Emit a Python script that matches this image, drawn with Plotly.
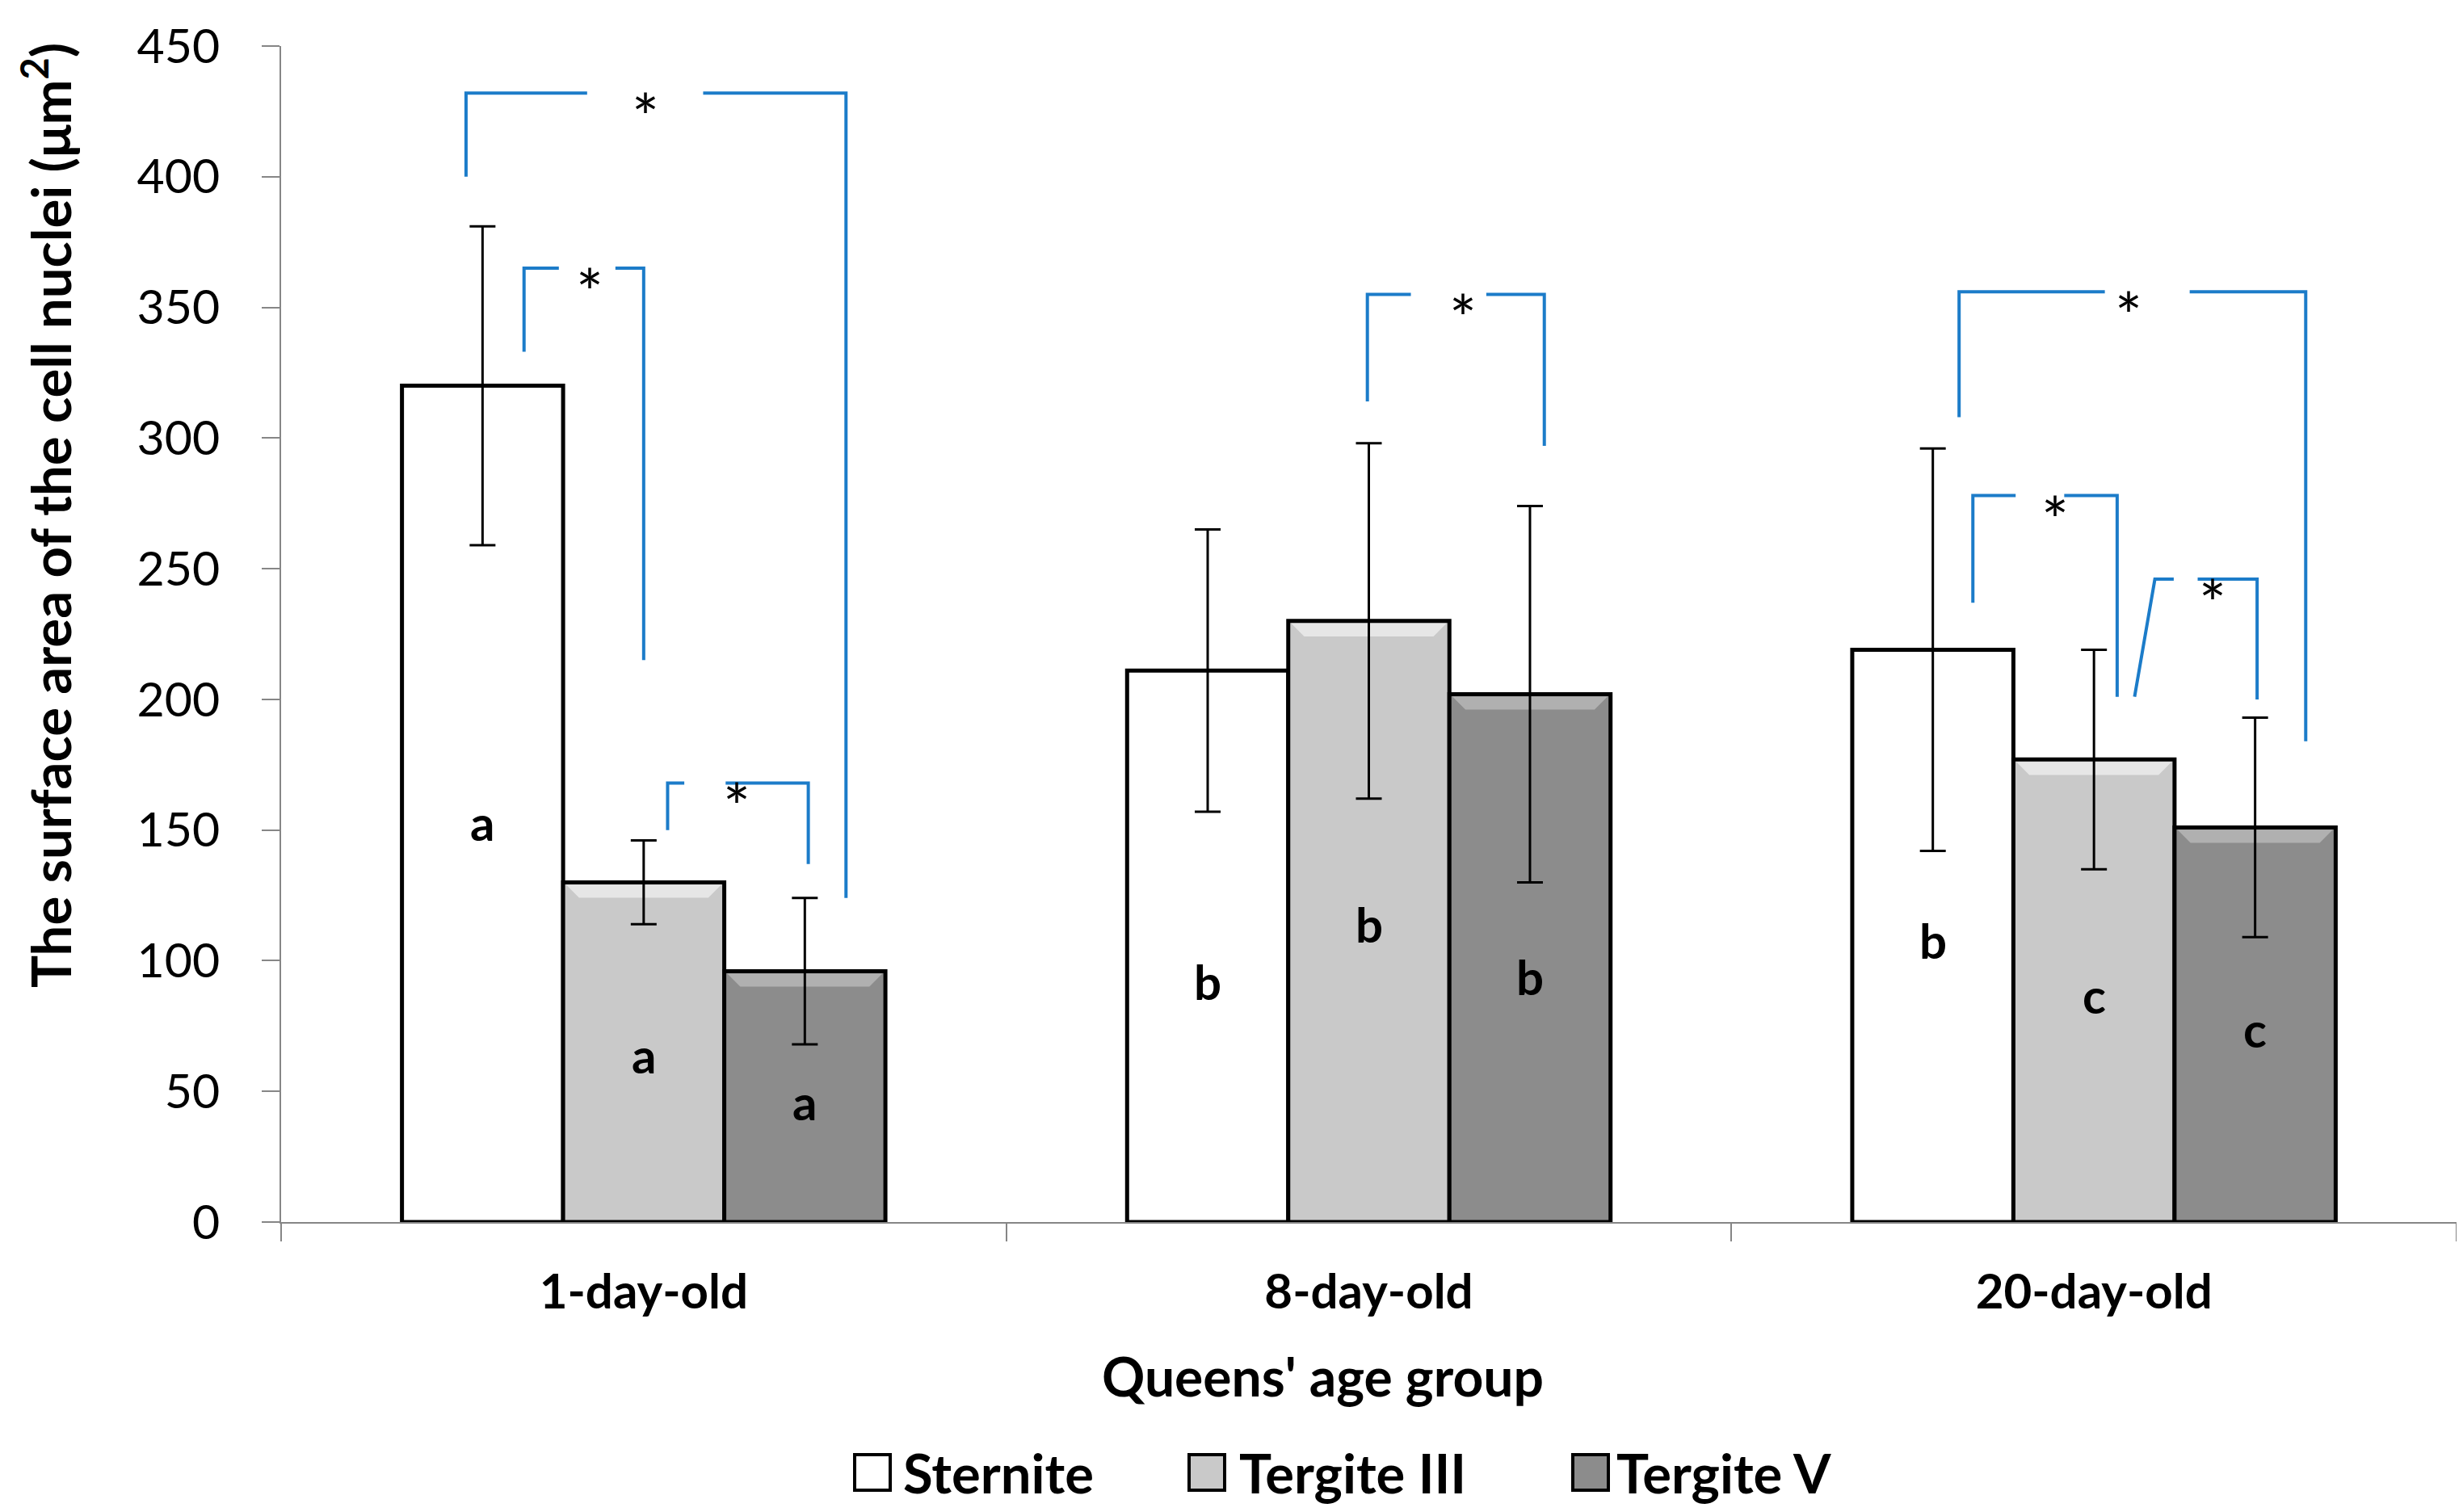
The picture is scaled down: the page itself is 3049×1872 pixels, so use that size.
import plotly.graph_objects as go

# ---------------- data ----------------
categories = ["1-day-old", "8-day-old", "20-day-old"]
series_names = ["Sternite", "Tergite III", "Tergite V"]
sternite = [320, 211, 219]
tergite_iii = [130, 230, 177]
tergite_v = [96, 202, 151]
sternite_sd = [61, 54, 77]
tergite_iii_sd = [16, 68, 42]
tergite_v_sd = [28, 72, 42]
# letters (significance groups) and their heights
sternite_letters = ["a", "b", "b"]
tergite_iii_letters = ["a", "b", "c"]
tergite_v_letters = ["a", "b", "c"]
sternite_letter_y = [153, 92, 108]
tergite_iii_letter_y = [64, 114, 87]
tergite_v_letter_y = [46, 94, 74]
y_ticks = [0, 50, 100, 150, 200, 250, 300, 350, 400, 450]

# significance brackets: x positions (axis units), left foot, top, right foot,
# end of left horizontal part, start of right horizontal part, star x
br_left_x = [-0.245, -0.165, 0.033, 0.998, 1.814, 1.833, 2.084]
br_left_foot_x = [-0.245, -0.165, 0.033, 0.998, 1.814, 1.833, 2.056]
br_right_x = [0.279, 0.000, 0.227, 1.242, 2.292, 2.032, 2.225]
br_left_bottom = [400, 333, 150, 314, 308, 237, 201]
br_top = [432, 365, 168, 355, 356, 278, 246]
br_right_bottom = [124, 215, 137, 297, 184, 201, 200]
br_gap_left = [-0.078, -0.117, 0.056, 1.058, 2.015, 1.892, 2.110]
br_gap_right = [0.082, -0.039, 0.113, 1.162, 2.132, 1.959, 2.143]
br_star_x = [0.002, -0.074, 0.128, 1.130, 2.048, 1.946, 2.164]

FONT = "Lato"
BLUE = "#1C7CC9"
AXIS_GREY = "#868686"
fills = ["#FFFFFF", "#C9C9C9", "#8C8C8C"]
bevels = [None, "#E6E6E6", "#B0B0B0"]

values = [sternite, tergite_iii, tergite_v]
sds = [sternite_sd, tergite_iii_sd, tergite_v_sd]
letters = [sternite_letters, tergite_iii_letters, tergite_v_letters]
letter_y = [sternite_letter_y, tergite_iii_letter_y, tergite_v_letter_y]

xpos = [0, 1, 2]
bargap = 1 / 3
bar_w = (1 - bargap) / 3

fig = go.Figure()

for i, name in enumerate(series_names):
    fig.add_trace(go.Bar(
        x=xpos, y=values[i], name=name, showlegend=False,
        marker=dict(color=fills[i], line=dict(color="black", width=5)),
    ))

# bevel highlight at the top of the grey bars
for i in range(3):
    if bevels[i] is None:
        continue
    bx, by = [], []
    for g in range(3):
        c = xpos[g] + (i - 1) * bar_w
        x0, x1 = c - bar_w / 2 + 0.004, c + bar_w / 2 - 0.004
        top = values[i][g] - 0.9
        h = 5.0
        d = 0.018
        bx += [x0, x1, x1 - d, x0 + d, x0, None]
        by += [top, top, top - h, top - h, top, None]
    fig.add_trace(go.Scatter(x=bx, y=by, mode="lines", fill="toself",
                             fillcolor=bevels[i], line=dict(width=0),
                             showlegend=False, hoverinfo="skip"))

# error bars
for i in range(3):
    cx = [xpos[g] + (i - 1) * bar_w for g in range(3)]
    fig.add_trace(go.Scatter(
        x=cx, y=values[i], mode="markers",
        marker=dict(size=1, color="rgba(0,0,0,0)"),
        error_y=dict(type="data", array=sds[i], visible=True,
                     color="black", thickness=3, width=16),
        showlegend=False, hoverinfo="skip"))

# brackets
lx, ly = [], []
for k in range(len(br_left_x)):
    lx += [br_left_foot_x[k], br_left_x[k], br_gap_left[k], None,
           br_gap_right[k], br_right_x[k], br_right_x[k], None]
    ly += [br_left_bottom[k], br_top[k], br_top[k], None,
           br_top[k], br_top[k], br_right_bottom[k], None]
fig.add_trace(go.Scatter(x=lx, y=ly, mode="lines",
                         line=dict(color=BLUE, width=4),
                         showlegend=False, hoverinfo="skip"))

annotations = []
for k in range(len(br_star_x)):
    annotations.append(dict(x=br_star_x[k], y=br_top[k], xref="x", yref="y",
                            text="*", showarrow=False,
                            font=dict(family=FONT, size=80, color="black"),
                            xanchor="center", yanchor="middle", yshift=-28))

# letters on bars
for i in range(3):
    for g in range(3):
        annotations.append(dict(
            x=xpos[g] + (i - 1) * bar_w, y=letter_y[i][g], xref="x", yref="y",
            text="<b>%s</b>" % letters[i][g], showarrow=False,
            xanchor="center", yanchor="middle",
            font=dict(family=FONT, size=60, color="black")))

W, H = 3049, 1872
ML, MR, MT, MB = 340, 16, 49, 367
PW, PH = W - ML - MR, H - MT - MB


def px(xf):
    return (xf - ML) / PW


def py(yf):
    return (H - yf - MB) / PH


# y-axis title
annotations.append(dict(x=px(50), y=py(630), xref="paper", yref="paper",
                        text="<b>The surface area of the cell nuclei (μm<sup>2</sup>)</b>",
                        textangle=-90, showarrow=False,
                        xanchor="center", yanchor="middle",
                        font=dict(family=FONT, size=67, color="black")))
# x-axis title
annotations.append(dict(x=px(1629), y=py(1695), xref="paper", yref="paper",
                        text="<b>Queens' age group</b>", showarrow=False,
                        xanchor="center", yanchor="middle",
                        font=dict(family=FONT, size=66, color="black")))

# custom legend
shapes = []
leg_sq_x = [1050, 1464, 1939]
leg_txt_x = [1108, 1524, 1991]
sq = 44
leg_yc = 1815
for i, name in enumerate(series_names):
    shapes.append(dict(type="rect", xref="paper", yref="paper",
                       x0=px(leg_sq_x[i]), x1=px(leg_sq_x[i] + sq),
                       y0=py(leg_yc + sq / 2), y1=py(leg_yc - sq / 2),
                       fillcolor=fills[i], line=dict(color="black", width=4)))
    annotations.append(dict(x=px(leg_txt_x[i]), y=py(leg_yc), xref="paper", yref="paper",
                            text="<b>%s</b>" % name, showarrow=False,
                            xanchor="left", yanchor="middle",
                            font=dict(family=FONT, size=67, color="black")))

fig.update_layout(
    width=W, height=H, autosize=False,
    margin=dict(l=ML, r=MR, t=MT, b=MB),
    paper_bgcolor="white", plot_bgcolor="white",
    barmode="group", bargap=bargap, bargroupgap=0,
    showlegend=False,
    annotations=annotations, shapes=shapes,
    xaxis=dict(range=[-0.5, 2.5], tickvals=xpos,
               ticktext=["<b>%s</b>" % c for c in categories],
               ticks="", showline=True, linecolor=AXIS_GREY, linewidth=2,
               showgrid=False, zeroline=False,
               tickfont=dict(family=FONT, size=60, color="black"),
               ticklabelstandoff=33,
               minor=dict(tickvals=[-0.5, 0.5, 1.5, 2.5], ticks="outside",
                          ticklen=22, tickcolor=AXIS_GREY, tickwidth=2)),
    yaxis=dict(range=[0, 450], tickvals=y_ticks, ticks="outside", ticklen=22,
               tickcolor=AXIS_GREY, tickwidth=2, showline=True,
               linecolor=AXIS_GREY, linewidth=2, showgrid=False, zeroline=False,
               tickfont=dict(family=FONT, size=59, color="black"),
               ticklabelstandoff=40),
)

fig.write_html("out.html")
